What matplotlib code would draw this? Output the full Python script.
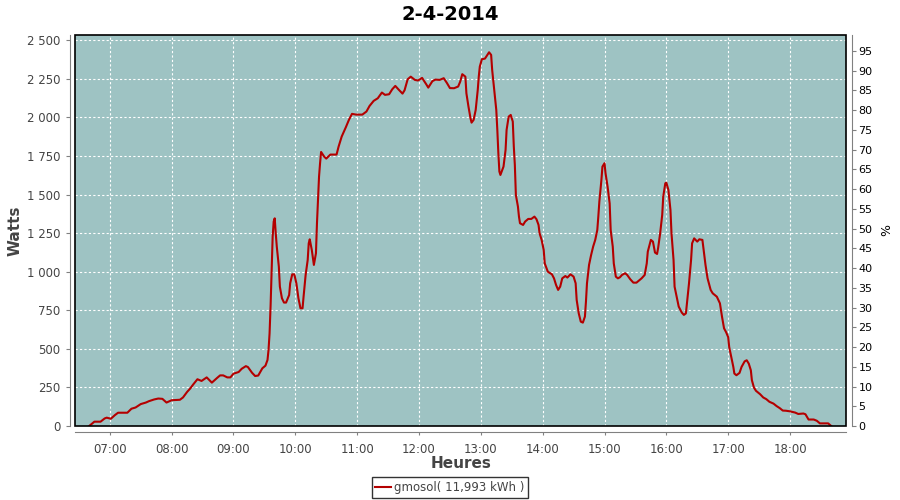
import matplotlib
matplotlib.use("Agg")
import matplotlib.pyplot as plt
import matplotlib.dates as mdates
from matplotlib.ticker import FuncFormatter, MultipleLocator
from matplotlib.patches import Rectangle
import pandas as pd

# production du jour
day = "2014-04-02"
times = ["06:40", "06:45", "06:51", "06:55", "06:57", "07:01", "07:05", "07:08", "07:17", "07:21",
         "07:25", "07:30", "07:35", "07:38", "07:43", "07:47", "07:51", "07:55", "08:00", "08:08",
         "08:11", "08:15", "08:18", "08:21", "08:25", "08:29", "08:34", "08:39", "08:44", "08:47",
         "08:50", "08:54", "08:57", "09:00", "09:05", "09:08", "09:12", "09:14", "09:18", "09:21",
         "09:24", "09:28", "09:31", "09:33", "09:34", "09:35", "09:36", "09:37", "09:38", "09:39",
         "09:40", "09:41", "09:42", "09:44", "09:45", "09:47", "09:49", "09:51", "09:54", "09:55",
         "09:57", "09:59", "10:01", "10:03", "10:05", "10:07", "10:08", "10:10", "10:12", "10:13",
         "10:14", "10:16", "10:18", "10:20", "10:21", "10:22", "10:23", "10:24", "10:25", "10:28",
         "10:30", "10:34", "10:40", "10:42", "10:45", "10:49", "10:52", "10:55", "10:59", "11:05",
         "11:09", "11:12", "11:16", "11:20", "11:24", "11:27", "11:31", "11:34", "11:37", "11:40",
         "11:44", "11:46", "11:49", "11:52", "11:56", "11:59", "12:03", "12:07", "12:09", "12:13",
         "12:16", "12:20", "12:24", "12:27", "12:30", "12:34", "12:38", "12:40", "12:42", "12:45",
         "12:46", "12:48", "12:50", "12:51", "12:53", "12:55", "12:57", "12:58", "12:59", "13:01",
         "13:04", "13:07", "13:08", "13:10", "13:11", "13:13", "13:15", "13:16", "13:17", "13:18",
         "13:19", "13:22", "13:24", "13:25", "13:27", "13:29", "13:31", "13:32", "13:33", "13:34",
         "13:36", "13:37", "13:38", "13:41", "13:43", "13:46", "13:49", "13:52", "13:54", "13:56",
         "13:57", "13:59", "14:01", "14:02", "14:05", "14:09", "14:11", "14:13", "14:15", "14:17",
         "14:19", "14:22", "14:24", "14:27", "14:30", "14:32", "14:33", "14:35", "14:37", "14:39",
         "14:41", "14:42", "14:43", "14:45", "14:47", "14:49", "14:51", "14:53", "14:54", "14:55",
         "14:57", "14:58", "15:00", "15:01", "15:03", "15:05", "15:06", "15:08", "15:09", "15:11",
         "15:13", "15:15", "15:17", "15:20", "15:22", "15:25", "15:28", "15:31", "15:34", "15:36",
         "15:39", "15:41", "15:42", "15:45", "15:47", "15:49", "15:51", "15:52", "15:54", "15:56",
         "15:57", "15:59", "16:00", "16:02", "16:04", "16:05", "16:07", "16:08", "16:10", "16:12",
         "16:15", "16:17", "16:19", "16:20", "16:22", "16:24", "16:25", "16:27", "16:30", "16:32",
         "16:35", "16:36", "16:38", "16:40", "16:43", "16:45", "16:49", "16:52", "16:54", "16:56",
         "16:58", "17:00", "17:01", "17:03", "17:05", "17:06", "17:08", "17:11", "17:13", "17:16",
         "17:18", "17:20", "17:22", "17:23", "17:25", "17:27", "17:31", "17:34", "17:37", "17:40",
         "17:44", "17:47", "17:50", "17:53", "17:56", "18:00", "18:05", "18:08", "18:13", "18:15",
         "18:18", "18:23", "18:26", "18:29", "18:37", "18:40"]
watts = [0, 28, 28, 49, 54, 47, 71, 86, 86, 112,
         120, 142, 152, 161, 172, 178, 176, 152, 167, 170,
         185, 221, 243, 270, 303, 292, 315, 281, 311, 328,
         328, 315, 315, 339, 350, 371, 388, 382, 345, 324,
         327, 374, 391, 428, 493, 600, 780, 1000, 1227, 1325,
         1346, 1249, 1163, 1033, 903, 828, 800, 800, 849, 925,
         983, 983, 925, 828, 763, 763, 838, 979, 1076, 1184,
         1210, 1140, 1044, 1119, 1314, 1465, 1616, 1703, 1776, 1746,
         1733, 1759, 1759, 1811, 1876, 1936, 1984, 2023, 2018, 2018,
         2038, 2074, 2107, 2124, 2161, 2146, 2150, 2182, 2204, 2182,
         2154, 2176, 2247, 2264, 2243, 2239, 2256, 2215, 2193, 2235,
         2245, 2243, 2254, 2224, 2190, 2189, 2200, 2232, 2280, 2264,
         2156, 2070, 1994, 1966, 1984, 2048, 2178, 2264, 2329, 2377,
         2381, 2411, 2422, 2405, 2308, 2178, 2048, 1919, 1768, 1649,
         1627, 1681, 1789, 1919, 2005, 2016, 1973, 1811, 1692, 1497,
         1422, 1357, 1314, 1303, 1325, 1342, 1342, 1357, 1340, 1303,
         1249, 1206, 1141, 1054, 1000, 983, 957, 914, 882, 903,
         957, 972, 962, 983, 968, 925, 817, 730, 676, 670,
         709, 806, 925, 1044, 1108, 1163, 1206, 1270, 1357, 1454,
         1595, 1681, 1703, 1638, 1551, 1443, 1270, 1163, 1054, 968,
         957, 964, 979, 990, 979, 951, 929, 929, 946, 957,
         979, 1054, 1130, 1206, 1195, 1124, 1115, 1152, 1249, 1368,
         1487, 1573, 1577, 1530, 1400, 1249, 1076, 903, 838, 774,
         735, 720, 730, 795, 925, 1076, 1184, 1216, 1195, 1210,
         1206, 1152, 1044, 957, 882, 860, 838, 795, 709, 633,
         608, 576, 512, 447, 383, 340, 329, 344, 383, 419,
         426, 404, 361, 297, 249, 228, 206, 185, 174, 157,
         145, 129, 116, 100, 99, 95, 87, 78, 81, 76,
         42, 42, 34, 17, 17, 0]
legend_label = "gmosol( 11,993 kWh )"
w_ticks = list(range(0, 2501, 250))
pct_ticks = list(range(0, 96, 5))

x = pd.to_datetime([day + " " + t for t in times])

bg = "#9ec3c3"
red = "#b40000"
gray = "#808080"

fig = plt.figure(figsize=(9, 5), dpi=100)
ax = fig.add_axes([75.3 / 900, 1 - 426 / 500, (846 - 75.3) / 900, (426 - 35) / 500])
ax.set_facecolor(bg)

ax.plot(x, watts, color=red, lw=1.5, label=legend_label, zorder=3)

ax.set_xlim(pd.Timestamp(day + " 06:26:30"), pd.Timestamp(day + " 18:54:20"))
ax.set_ylim(0, 2534)
ax.set_yticks(w_ticks)
ax.yaxis.set_major_formatter(FuncFormatter(lambda v, p: f"{int(v):,}".replace(",", " ")))
ax.xaxis.set_major_locator(mdates.HourLocator())
ax.xaxis.set_major_formatter(mdates.DateFormatter("%H:%M"))

ax.grid(True, color="white", lw=0.8, linestyle=(0, (2, 2)))
ax.set_axisbelow(True)

for s in ["left", "bottom", "right"]:
    ax.spines[s].set_position(("outward", 4))
    ax.spines[s].set_color(gray)
ax.spines["top"].set_visible(False)
ax.spines["right"].set_visible(False)
ax.add_patch(Rectangle((0, 0), 1, 1, transform=ax.transAxes, fill=False,
                       ec="black", lw=1.2, clip_on=False, zorder=5))

ax.tick_params(axis="y", colors=gray, labelcolor="#444444", labelsize=8.5, length=3)
ax.tick_params(axis="x", colors=gray, labelcolor="#444444", labelsize=8.5, length=2, pad=6)

ax2 = ax.twinx()
ax2.set_ylim(0, 99)
ax2.set_yticks(pct_ticks)
for s in ["left", "bottom", "top"]:
    ax2.spines[s].set_visible(False)
ax2.spines["right"].set_position(("outward", 4))
ax2.spines["right"].set_color(gray)
ax2.tick_params(axis="y", colors=gray, labelcolor="black", labelsize=8, length=3, pad=2)

ax.set_ylabel("Watts", fontsize=11, fontweight="bold", color="#444444")
ax.yaxis.set_label_coords(-0.069, 0.5)
ax.set_xlabel("Heures", fontsize=11, fontweight="bold", color="#444444")
ax.xaxis.set_label_coords(0.5, -0.076)
ax2.set_ylabel("%", fontsize=9, color="black")
ax2.yaxis.set_label_coords(1.044, 0.5)

fig.suptitle("2-4-2014", fontsize=14, fontweight="bold", y=0.99)

leg = fig.legend(loc="center", bbox_to_anchor=(0.5, 1 - 487.5 / 500), fontsize=8.5,
                 frameon=True, fancybox=False, edgecolor="black", handlelength=1.3,
                 handletextpad=0.3, borderpad=0.3, labelcolor="#444444")
leg.get_frame().set_linewidth(1)

fig.savefig("out.png", dpi=100)
